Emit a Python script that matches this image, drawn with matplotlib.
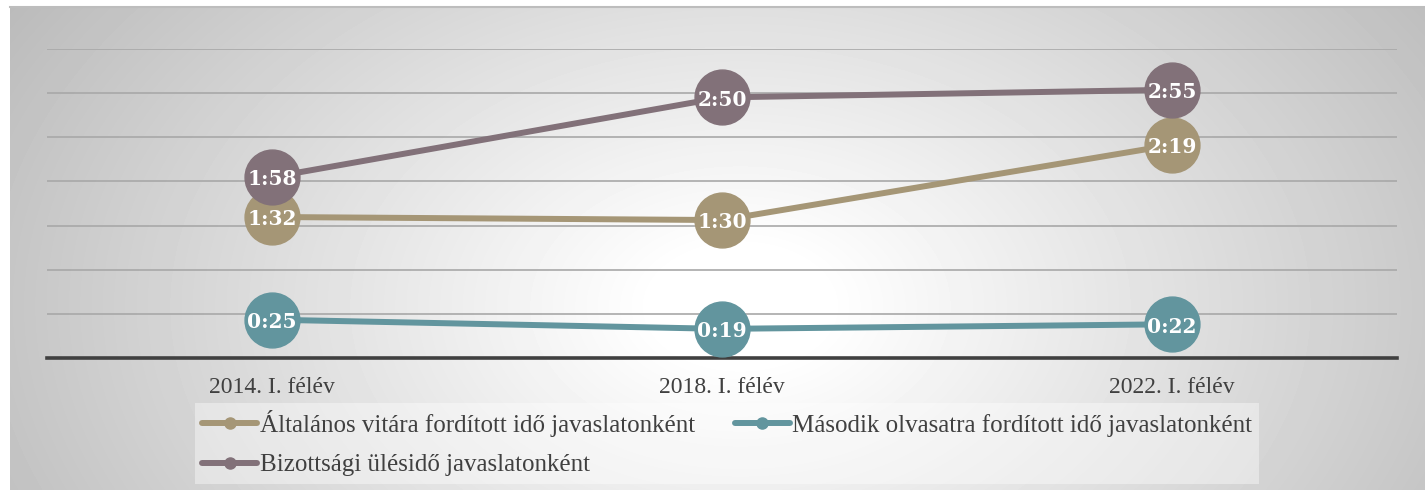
import numpy as np
import matplotlib.pyplot as plt
from matplotlib.lines import Line2D

# data (minutes)
categories = ['2014. I. félév', '2018. I. félév', '2022. I. félév']
altalanos = [92, 90, 139]      # 1:32, 1:30, 2:19
masodik = [25, 19, 22]         # 0:25, 0:19, 0:22
bizottsagi = [118, 170, 175]   # 1:58, 2:50, 2:55
series_names = ['Általános vitára fordított idő javaslatonként',
                'Második olvasatra fordított idő javaslatonként',
                'Bizottsági ülésidő javaslatonként']
colors = ['#A59676', '#62959E', '#827179']


def fmt(m):
    return '%d:%02d' % (m // 60, m % 60)


W, H = 1425, 491
fig = plt.figure(figsize=(W / 100, H / 100), dpi=100)
fig.patch.set_facecolor('white')

# gradient background of the chart area
bg = fig.add_axes([10 / W, 1 - 490 / H, 1 - 10 / W, 484 / H])
bg.set_axis_off()
gx, gy = np.meshgrid(np.arange(W - 10), np.arange(484))
d = np.sqrt(((gx - 730) / 720.0) ** 2 + ((gy - 300) / 480.0) ** 2)
grey = np.clip(1.03 - 0.25 * d, 0, 1)
bg.imshow(grey, cmap='gray', vmin=0, vmax=1, aspect='auto', interpolation='bilinear')
# thin border at top of chart area
fig.add_artist(Line2D([10 / W, 1], [1 - 6.5 / H, 1 - 6.5 / H], color='#bdbdbd', lw=1.5))

ax = fig.add_axes([47 / W, 1 - 358 / H, 1350 / W, 309 / H])
ax.patch.set_alpha(0)
x = np.arange(len(categories))

step = 28.8  # Excel time axis unit 0.02 day
ax.set_ylim(0, step * 7)
ax.set_xlim(-0.5, 2.5)
ax.set_yticks(np.arange(1, 8) * step)
ax.yaxis.grid(True, color='#a8a8a8', lw=1.2)
ax.set_axisbelow(True)
ax.tick_params(axis='y', left=False, labelleft=False)
ax.tick_params(axis='x', bottom=False, pad=10, labelsize=17, labelcolor='#404040')
ax.set_xticks(x)
ax.set_xticklabels(categories, family='Liberation Serif')
for s in ['top', 'left', 'right']:
    ax.spines[s].set_visible(False)
ax.spines['bottom'].set_color('#404040')
ax.spines['bottom'].set_linewidth(2.6)

for vals, c in zip([altalanos, masodik, bizottsagi], colors):
    ax.plot(x, vals, color=c, lw=4.3, marker='o', ms=39.5, mec=c, mfc=c,
            solid_capstyle='round', clip_on=False, zorder=3)
for vals in [altalanos, masodik, bizottsagi]:
    for i, v in enumerate(vals):
        ax.text(i, v - 1.5, fmt(v), ha='center', va='center', color='white',
                fontsize=14.5, fontweight='bold', family='DejaVu Serif', zorder=5)

handles = [Line2D([], [], color=c, lw=4.3, marker='o', ms=8, solid_capstyle='round')
           for c in colors]
order = [0, 2, 1]
leg = fig.legend([handles[i] for i in order], [series_names[i] for i in order],
                 loc='upper left', bbox_to_anchor=(195 / W, 1 - 403 / H), ncol=2,
                 prop={'family': 'Liberation Serif', 'size': 18},
                 handlelength=2.2, handletextpad=0.1, columnspacing=1.6,
                 labelspacing=0.68, borderpad=0.28, borderaxespad=0,
                 fancybox=False, frameon=True)
leg.get_frame().set_facecolor('white')
leg.get_frame().set_alpha(0.4)
leg.get_frame().set_edgecolor('none')
for t in leg.get_texts():
    t.set_color('#404040')

fig.savefig('out.png', dpi=100)
